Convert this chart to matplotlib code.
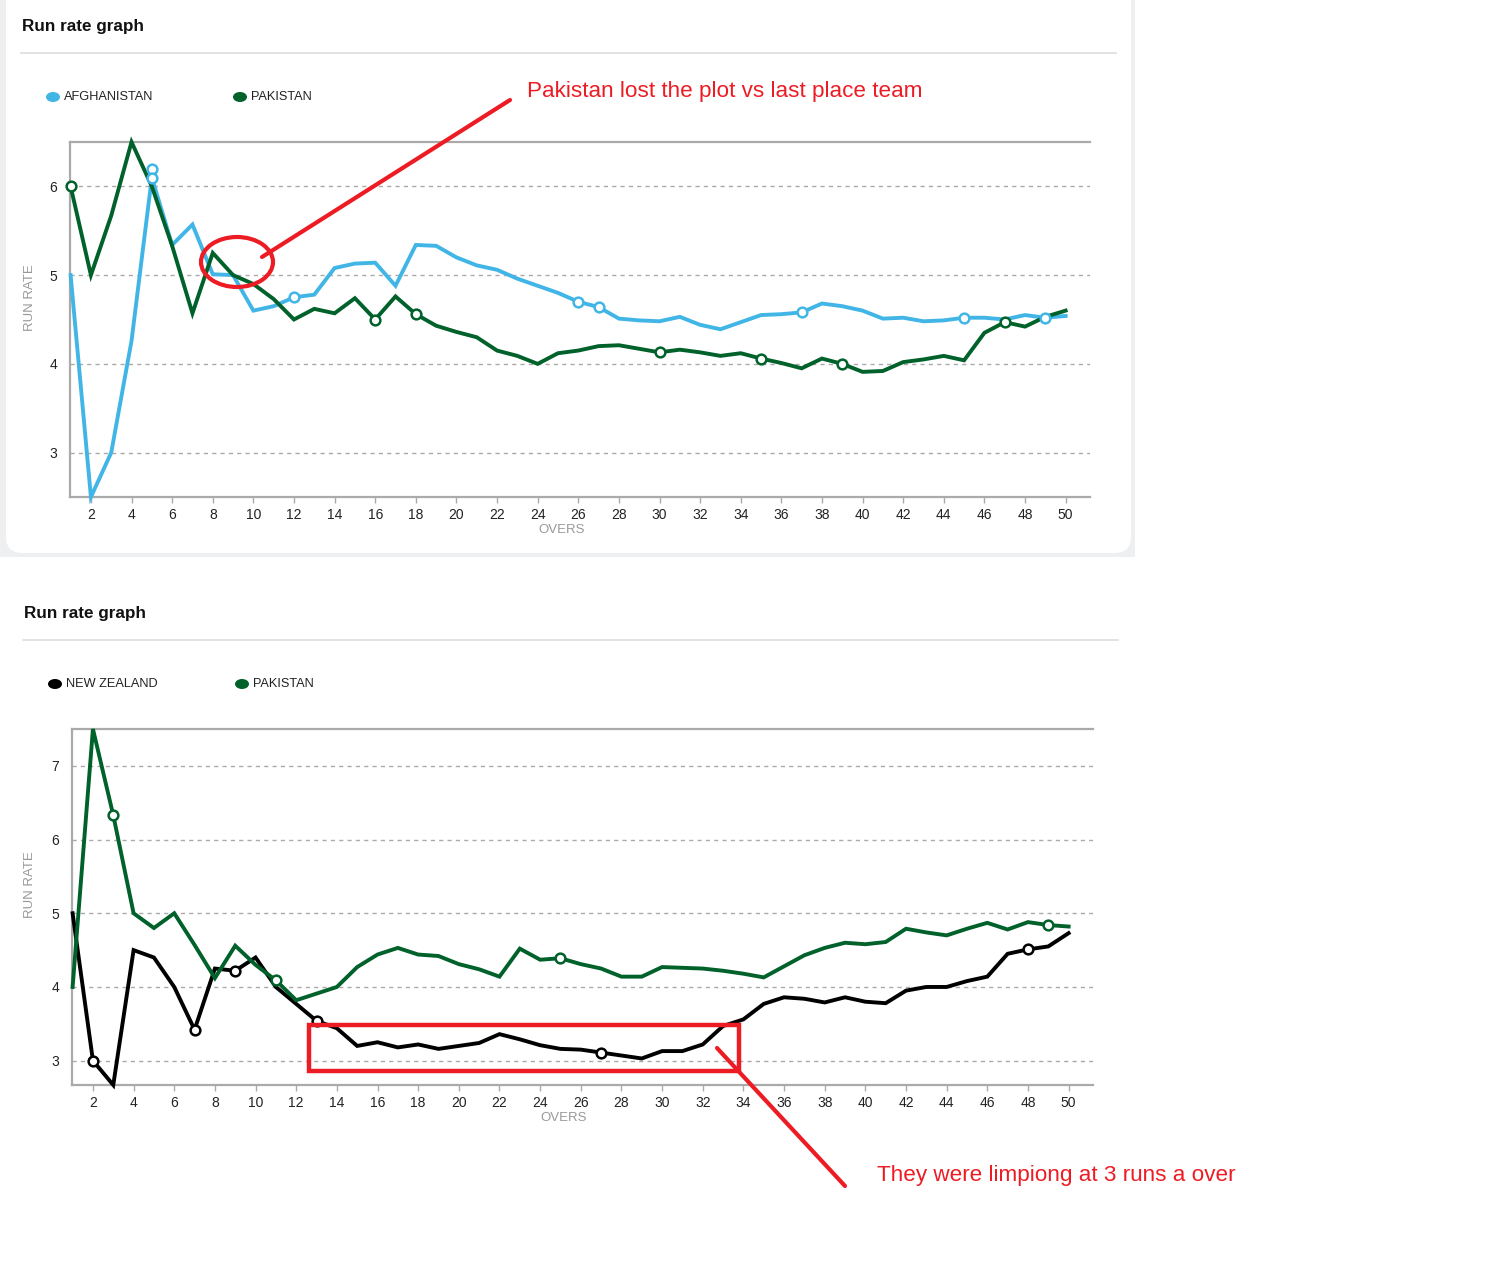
import matplotlib
matplotlib.use("Agg")
import matplotlib.pyplot as plt
from matplotlib.patches import Rectangle, FancyBboxPatch, Ellipse
from matplotlib.lines import Line2D

plt.rcParams['font.family'] = ['Liberation Sans', 'DejaVu Sans']

W, H = 1490, 1272
overs = list(range(1, 51))

# ---- Chart 1: Afghanistan vs Pakistan ----
afg_rr = [5.0, 2.5, 3.0, 4.26, 6.1, 5.34, 5.57, 5.01, 5.0, 4.6,
          4.65, 4.75, 4.78, 5.08, 5.13, 5.14, 4.88, 5.34, 5.33, 5.2,
          5.11, 5.06, 4.96, 4.88, 4.8, 4.7, 4.64, 4.51, 4.49, 4.48,
          4.53, 4.44, 4.39, 4.47, 4.55, 4.56, 4.58, 4.68, 4.65, 4.6,
          4.51, 4.52, 4.48, 4.49, 4.52, 4.52, 4.5, 4.55, 4.52, 4.54]
pak1_rr = [6.0, 5.0, 5.67, 6.5, 6.0, 5.33, 4.57, 5.25, 5.0, 4.9,
           4.73, 4.5, 4.62, 4.57, 4.74, 4.5, 4.76, 4.56, 4.43, 4.36,
           4.3, 4.15, 4.09, 4.0, 4.12, 4.15, 4.2, 4.21, 4.17, 4.13,
           4.16, 4.13, 4.09, 4.12, 4.06, 4.01, 3.95, 4.06, 4.0, 3.91,
           3.92, 4.02, 4.05, 4.09, 4.04, 4.35, 4.47, 4.42, 4.53, 4.6]
afg_wk_overs = [5, 5, 12, 26, 27, 37, 45, 49]
afg_wk_rr = [6.2, 6.1, 4.75, 4.7, 4.64, 4.58, 4.52, 4.52]
pak1_wk_overs = [1, 16, 18, 30, 35, 39, 47]
pak1_wk_rr = [6.0, 4.5, 4.56, 4.13, 4.06, 4.0, 4.47]

# ---- Chart 2: New Zealand vs Pakistan ----
nz_rr = [5.0, 3.0, 2.67, 4.5, 4.4, 4.0, 3.42, 4.25, 4.22, 4.4,
         4.0, 3.77, 3.54, 3.44, 3.2, 3.25, 3.18, 3.22, 3.16, 3.2,
         3.24, 3.36, 3.29, 3.21, 3.16, 3.15, 3.11, 3.07, 3.03, 3.13,
         3.13, 3.22, 3.47, 3.56, 3.77, 3.86, 3.84, 3.79, 3.86, 3.8,
         3.78, 3.95, 4.0, 4.0, 4.08, 4.14, 4.45, 4.51, 4.55, 4.73]
pak2_rr = [4.0, 7.5, 6.33, 5.0, 4.8, 5.0, 4.57, 4.12, 4.56, 4.3,
           4.09, 3.82, 3.91, 4.0, 4.27, 4.44, 4.53, 4.44, 4.42, 4.31,
           4.24, 4.14, 4.52, 4.37, 4.39, 4.31, 4.25, 4.14, 4.14, 4.27,
           4.26, 4.25, 4.22, 4.18, 4.13, 4.28, 4.43, 4.53, 4.6, 4.58,
           4.61, 4.79, 4.74, 4.7, 4.79, 4.87, 4.78, 4.88, 4.84, 4.82]
nz_wk_overs = [2, 7, 9, 13, 27, 48]
nz_wk_rr = [3.0, 3.42, 4.22, 3.54, 3.11, 4.51]
pak2_wk_overs = [3, 11, 25, 49]
pak2_wk_rr = [6.33, 4.09, 4.39, 4.84]

xticks = list(range(2, 51, 2))
yticks1 = [3, 4, 5, 6]
yticks2 = [3, 4, 5, 6, 7]

BLUE = '#41b6e6'
GREEN = '#00612a'
BLACK = '#000000'
RED = '#ed1c24'

fig = plt.figure(figsize=(W / 100, H / 100), dpi=100)
fig.patch.set_facecolor('white')


def fx(px):
    return px / W


def fy(py):
    return 1 - py / H


# background card for chart 1
fig.patches.append(Rectangle((0, fy(557)), fx(1135), 557 / H, transform=fig.transFigure,
                             facecolor='#eeeff1', edgecolor='none', zorder=0))
fig.patches.append(FancyBboxPatch((fx(6), fy(553)), fx(1131) - fx(6), (553 + 20) / H,
                                  boxstyle='round,pad=0,rounding_size=0.011',
                                  transform=fig.transFigure, facecolor='white',
                                  edgecolor='none', zorder=0.5, mutation_aspect=W / H))


def make_chart(top_y, left, right, top, bottom, ylim, yticks, series, legend, title_x):
    # title and divider
    fig.text(fx(title_x), fy(top_y + 27), 'Run rate graph', fontsize=12.3, fontweight='bold',
             color='#111111', va='center', ha='left', zorder=3)
    fig.add_artist(Line2D([fx(title_x - 1), fx(title_x + 1094)], [fy(top_y + 53), fy(top_y + 53)],
                          transform=fig.transFigure, color='#dddddd', lw=1.2, zorder=3))
    # legend
    for i, (name, col) in enumerate(legend):
        ex = title_x + 31 + i * 187
        fig.patches.append(Ellipse((fx(ex), fy(top_y + 97)), 14 / W, 10 / H,
                                   transform=fig.transFigure, facecolor=col, edgecolor='none',
                                   zorder=3))
        fig.text(fx(ex + 11), fy(top_y + 97), name, fontsize=9.2, color='#222222',
                 va='center', ha='left', zorder=3)

    ax = fig.add_axes([fx(left), fy(bottom), fx(right) - fx(left), (bottom - top) / H])
    ax.set_zorder(2)
    ax.set_xlim(0.97, 51.2)
    ax.set_ylim(*ylim)
    for vals, col, wo, wr in series:
        ax.plot(overs, vals, color=col, lw=2.8, solid_joinstyle='miter', zorder=3,
                clip_on=False)
        ax.plot(wo, wr, linestyle='none', marker='o', ms=7, mfc='white', mec=col,
                mew=1.8, zorder=4, clip_on=False)
    ax.set_yticks(yticks)
    ax.set_xticks(xticks)
    ax.yaxis.grid(True, linestyle=(0, (3, 3)), color='#aaaaaa', lw=1)
    ax.set_axisbelow(True)
    for s in ['top', 'left', 'bottom']:
        ax.spines[s].set_color('#aaaaaa')
        ax.spines[s].set_linewidth(1.6)
    ax.spines['right'].set_visible(False)
    ax.tick_params(axis='y', length=0, pad=9, labelsize=10, labelcolor='#222222')
    ax.tick_params(axis='x', length=4, width=1, color='#aaaaaa', pad=4, labelsize=10,
                   labelcolor='#222222')
    ax.patch.set_alpha(0)
    fig.text(fx(left + 492), fy(bottom + 33), 'OVERS', fontsize=9.5, color='#999999',
             ha='center', va='center', zorder=3)
    fig.text(fx(30), fy((top + bottom) / 2 - 22), 'RUN RATE', fontsize=9.5, color='#999999',
             ha='center', va='center', rotation=90, zorder=3)
    return ax


ax1 = make_chart(0, 70, 1090, 142, 497, (2.5, 6.5), yticks1,
                 [(afg_rr, BLUE, afg_wk_overs, afg_wk_rr),
                  (pak1_rr, GREEN, pak1_wk_overs, pak1_wk_rr)],
                 [('AFGHANISTAN', BLUE), ('PAKISTAN', GREEN)], 22)

ax2 = make_chart(587, 72, 1093, 729, 1085, (2.67, 7.5), yticks2,
                 [(nz_rr, BLACK, nz_wk_overs, nz_wk_rr),
                  (pak2_rr, GREEN, pak2_wk_overs, pak2_wk_rr)],
                 [('NEW ZEALAND', BLACK), ('PAKISTAN', GREEN)], 24)

# annotations (red, drawn by hand on the reference)
fig.text(fx(527), fy(92), 'Pakistan lost the plot vs last place team', fontsize=16.2,
         color=RED, ha='left', va='center', zorder=10)
fig.add_artist(Line2D([fx(262), fx(510)], [fy(257), fy(100)], transform=fig.transFigure,
                      color=RED, lw=3, solid_capstyle='round', zorder=10))
fig.patches.append(Ellipse((fx(237), fy(262)), 72 / W, 50 / H, transform=fig.transFigure,
                           facecolor='none', edgecolor=RED, lw=3, zorder=10))

fig.patches.append(Rectangle((fx(309), fy(1071)), fx(739) - fx(309), (1071 - 1025) / H,
                             transform=fig.transFigure, facecolor='none', edgecolor=RED,
                             lw=3.2, zorder=10))
fig.add_artist(Line2D([fx(717), fx(845)], [fy(1048), fy(1186)], transform=fig.transFigure,
                      color=RED, lw=3, solid_capstyle='round', zorder=10))
fig.text(fx(877), fy(1176), 'They were limpiong at 3 runs a over', fontsize=16.2,
         color=RED, ha='left', va='center', zorder=10)

fig.savefig('out.png', dpi=100, facecolor='white')
